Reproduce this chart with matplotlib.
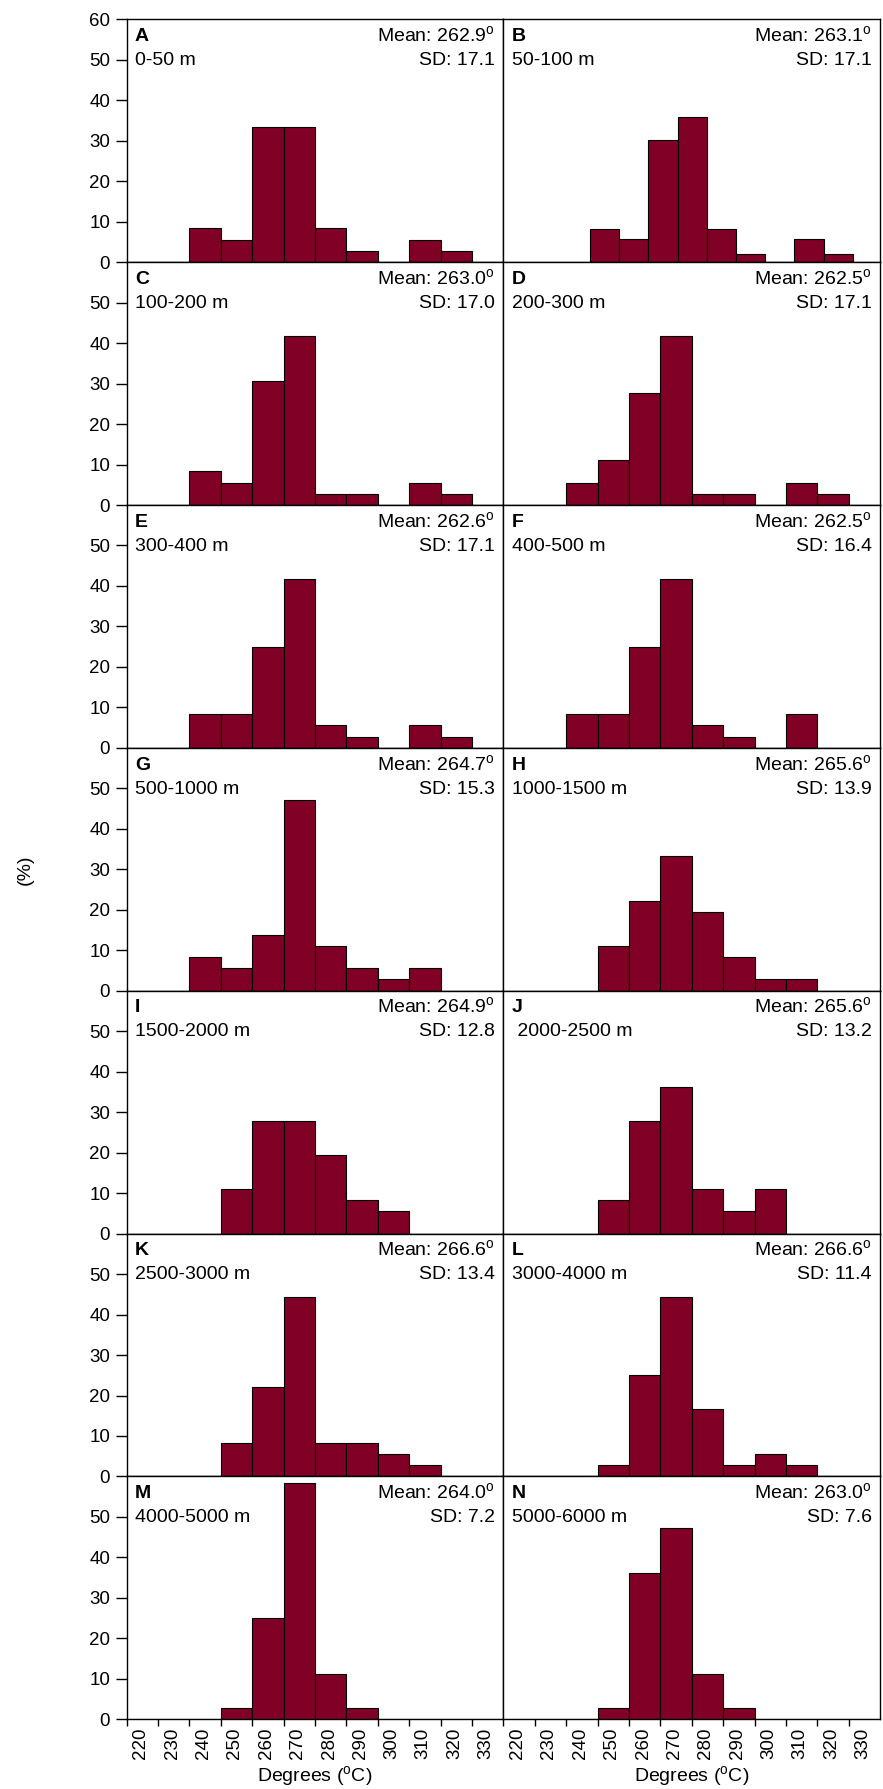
import numpy as np
import matplotlib
matplotlib.use("Agg")
import matplotlib.pyplot as plt
import matplotlib.transforms as mtransforms

plt.rcParams['font.family'] = ['Liberation Sans', 'DejaVu Sans']
plt.rcParams['mathtext.fontset'] = 'custom'
plt.rcParams['mathtext.rm'] = 'Liberation Sans'

# bin edges (deg C); panel B was drawn with its own, slightly narrower bins
bins_std = [220, 230, 240, 250, 260, 270, 280, 290, 300, 310, 320, 330, 340]
bins_b = [247.6, 256.9, 266.2, 275.5, 284.8, 294.1, 303.4, 312.7, 322.0, 331.3]

letters = ["A", "B", "C", "D", "E", "F", "G", "H", "I", "J", "K", "L", "M", "N"]
depths = ["0-50 m", "50-100 m", "100-200 m", "200-300 m", "300-400 m", "400-500 m",
          "500-1000 m", "1000-1500 m", "1500-2000 m", " 2000-2500 m", "2500-3000 m",
          "3000-4000 m", "4000-5000 m", "5000-6000 m"]
means = ["262.9", "263.1", "263.0", "262.5", "262.6", "262.5", "264.7",
         "265.6", "264.9", "265.6", "266.6", "266.6", "264.0", "263.0"]
sds = ["17.1", "17.1", "17.0", "17.1", "17.1", "16.4", "15.3",
       "13.9", "12.8", "13.2", "13.4", "11.4", "7.2", "7.6"]

# percentages per bin (bins_std, 220..330), panel B on bins_b
pct_a = [0, 0, 8.33, 5.56, 33.33, 33.33, 8.33, 2.78, 0, 5.56, 2.78, 0]
pct_b = [8.3, 5.6, 30.3, 35.9, 8.3, 2.0, 0, 5.6, 2.0]
pct_c = [0, 0, 8.33, 5.56, 30.56, 41.67, 2.78, 2.78, 0, 5.56, 2.78, 0]
pct_d = [0, 0, 5.56, 11.11, 27.78, 41.67, 2.78, 2.78, 0, 5.56, 2.78, 0]
pct_e = [0, 0, 8.33, 8.33, 25.0, 41.67, 5.56, 2.78, 0, 5.56, 2.78, 0]
pct_f = [0, 0, 8.33, 8.33, 25.0, 41.67, 5.56, 2.78, 0, 8.33, 0, 0]
pct_g = [0, 0, 8.33, 5.56, 13.89, 47.22, 11.11, 5.56, 2.78, 5.56, 0, 0]
pct_h = [0, 0, 0, 11.11, 22.22, 33.33, 19.44, 8.33, 2.78, 2.78, 0, 0]
pct_i = [0, 0, 0, 11.11, 27.78, 27.78, 19.44, 8.33, 5.56, 0, 0, 0]
pct_j = [0, 0, 0, 8.33, 27.78, 36.11, 11.11, 5.56, 11.11, 0, 0, 0]
pct_k = [0, 0, 0, 8.33, 22.22, 44.44, 8.33, 8.33, 5.56, 2.78, 0, 0]
pct_l = [0, 0, 0, 2.78, 25.0, 44.44, 16.67, 2.78, 5.56, 2.78, 0, 0]
pct_m = [0, 0, 0, 2.78, 25.0, 58.33, 11.11, 2.78, 0, 0, 0, 0]
pct_n = [0, 0, 0, 2.78, 36.11, 47.22, 11.11, 2.78, 0, 0, 0, 0]

panels = [pct_a, pct_b, pct_c, pct_d, pct_e, pct_f, pct_g,
          pct_h, pct_i, pct_j, pct_k, pct_l, pct_m, pct_n]
edges = [bins_std, bins_b] + [bins_std] * 12

W, H = 883, 1789
fig = plt.figure(figsize=(W / 100, H / 100), dpi=100)

x0, colw = 126.7, 376.7
ytop, rowh = 19.3, 242.86
barcol = '#800026'
fs = 14

for i in range(14):
    row, col = divmod(i, 2)
    rect = [(x0 + col * colw) / W, 1 - (ytop + (row + 1) * rowh) / H, colw / W, rowh / H]
    ax = fig.add_axes(rect)
    e = np.array(edges[i])
    v = np.array(panels[i])
    ax.bar(e[:-1], v, width=np.diff(e), align='edge', color=barcol,
           edgecolor='black', linewidth=0.8)
    ax.set_xlim(220, 340)
    ax.set_ylim(0, 60)
    for s in ax.spines.values():
        s.set_linewidth(1.0)

    if col == 0:
        ax.set_yticks(range(0, 70, 10) if row == 0 else range(0, 60, 10))
        ax.tick_params(axis='y', length=8, width=1.0, pad=4, labelsize=13.5)
    else:
        ax.set_yticks([])

    ax.set_xticks(range(220, 340, 10))
    if row == 6:
        ax.tick_params(axis='x', length=5, width=1.0, pad=1, labelsize=13.5,
                       labelrotation=90)
        off = mtransforms.ScaledTranslation(4 / 72, 0, fig.dpi_scale_trans)
        for lab in ax.get_xticklabels():
            lab.set_ha('left')
            lab.set_transform(lab.get_transform() + off)
    else:
        ax.tick_params(axis='x', length=0, labelbottom=False)

    ax.text(0.022, 0.9107, letters[i], transform=ax.transAxes, fontsize=fs,
            fontweight='bold', ha='left', va='baseline')
    ax.text(0.022, 0.812, depths[i], transform=ax.transAxes, fontsize=fs,
            ha='left', va='baseline')
    ax.text(0.978, 0.9066, "Mean: " + means[i] + r"$^{\mathrm{o}}$",
            transform=ax.transAxes, fontsize=fs, ha='right', va='baseline')
    ax.text(0.978, 0.812, "SD: " + sds[i], transform=ax.transAxes, fontsize=fs,
            ha='right', va='baseline')

fig.text(25 / W, 1 - 870 / H, "(%)", rotation=90, ha='center', va='center', fontsize=fs)
for col in range(2):
    fig.text((x0 + col * colw + colw / 2) / W, 1 - 1777 / H, r"Degrees ($^{\mathrm{o}}$C)",
             ha='center', va='center', fontsize=fs)

fig.savefig("out.png", dpi=100)
